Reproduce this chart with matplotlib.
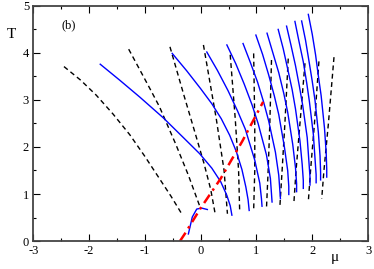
import matplotlib
matplotlib.use("Agg")
import matplotlib.pyplot as plt
from matplotlib.ticker import MultipleLocator

plt.rcParams['font.family'] = ['Liberation Serif', 'DejaVu Serif']
plt.rcParams['axes.unicode_minus'] = False

# blue solid curves, (mu, T)
blue_mu = [
    [-0.22, -0.15, -0.07, 0.02, 0.12],
    [-1.80, -1.45, -1.09, -0.67, -0.31, -0.02, 0.20, 0.36, 0.47, 0.53, 0.56],
    [-0.51, -0.25, 0.00, 0.20, 0.37, 0.52, 0.64, 0.74, 0.81, 0.85, 0.87],
    [0.11, 0.30, 0.49, 0.66, 0.80, 0.97, 1.06, 1.09, 1.10],
    [0.47, 0.63, 0.78, 0.92, 1.03, 1.18, 1.25, 1.27, 1.28],
    [0.76, 0.89, 1.02, 1.13, 1.22, 1.34, 1.40, 1.42, 1.43],
    [0.99, 1.11, 1.22, 1.32, 1.40, 1.50, 1.56, 1.58, 1.58],
    [1.19, 1.29, 1.40, 1.49, 1.56, 1.65, 1.70, 1.72, 1.72],
    [1.39, 1.48, 1.56, 1.64, 1.70, 1.78, 1.82, 1.84, 1.84],
    [1.54, 1.62, 1.70, 1.77, 1.83, 1.91, 1.94, 1.96, 1.96],
    [1.69, 1.76, 1.84, 1.90, 1.95, 2.02, 2.05, 2.07, 2.07],
    [1.81, 1.88, 1.94, 2.00, 2.05, 2.11, 2.14, 2.15, 2.15],
    [1.93, 2.00, 2.06, 2.11, 2.16, 2.22, 2.25, 2.26, 2.26],
]
blue_T = [
    [0.15, 0.51, 0.68, 0.70, 0.67],
    [3.76, 3.42, 3.06, 2.62, 2.20, 1.86, 1.55, 1.26, 0.97, 0.75, 0.55],
    [3.99, 3.62, 3.24, 2.92, 2.60, 2.25, 1.90, 1.52, 1.15, 0.88, 0.65],
    [4.02, 3.63, 3.20, 2.77, 2.38, 1.72, 1.23, 0.90, 0.74],
    [4.17, 3.77, 3.34, 2.90, 2.50, 1.83, 1.33, 1.00, 0.83],
    [4.20, 3.80, 3.38, 2.95, 2.55, 1.89, 1.40, 1.07, 0.90],
    [4.38, 3.97, 3.53, 3.09, 2.69, 2.01, 1.50, 1.16, 0.99],
    [4.42, 4.02, 3.58, 3.14, 2.74, 2.06, 1.56, 1.22, 1.05],
    [4.50, 4.09, 3.66, 3.22, 2.81, 2.13, 1.63, 1.29, 1.12],
    [4.57, 4.16, 3.73, 3.29, 2.88, 2.20, 1.70, 1.36, 1.19],
    [4.67, 4.26, 3.81, 3.37, 2.96, 2.27, 1.75, 1.41, 1.24],
    [4.68, 4.27, 3.84, 3.40, 2.99, 2.31, 1.81, 1.47, 1.30],
    [4.82, 4.40, 3.96, 3.51, 3.09, 2.40, 1.88, 1.53, 1.36],
]

# black dashed curves
dash_mu = [
    [-2.45, -2.15, -1.87, -1.57, -1.27, -1.00, -0.74, -0.53, -0.33],
    [-1.29, -1.09, -0.90, -0.74, -0.45, -0.22, -0.01],
    [-0.55, -0.30, -0.10, 0.06, 0.18, 0.26],
    [0.05, 0.28, 0.42, 0.48],
    [0.53, 0.62, 0.68, 0.70],
    [0.95, 0.97, 0.97, 0.95],
    [1.27, 1.24, 1.21, 1.18],
    [1.57, 1.51, 1.46, 1.42],
    [1.87, 1.78, 1.71, 1.67],
    [2.12, 2.04, 1.97, 1.93],
    [2.39, 2.29, 2.21, 2.17],
]
dash_T = [
    [3.71, 3.42, 3.10, 2.70, 2.26, 1.80, 1.33, 0.95, 0.56],
    [4.08, 3.64, 3.22, 2.86, 2.07, 1.40, 0.72],
    [4.13, 3.10, 2.30, 1.65, 1.10, 0.58],
    [4.17, 2.60, 1.50, 0.58],
    [3.96, 2.60, 1.50, 0.61],
    [3.99, 2.50, 1.50, 0.65],
    [3.85, 2.50, 1.50, 0.70],
    [3.88, 2.50, 1.50, 0.73],
    [3.78, 2.50, 1.50, 0.79],
    [3.82, 2.50, 1.50, 0.84],
    [3.91, 2.50, 1.50, 0.90],
]

# red dash-dot line
red_mu = [-0.37, -0.28, 0.00, 0.36, 0.75, 1.12]
red_T = [0.00, 0.16, 0.70, 1.33, 2.13, 2.96]

fig = plt.figure(figsize=(3.74, 2.69), dpi=100)
ax = fig.add_axes([0.089, 0.104, 0.895, 0.874])

for m, t in zip(dash_mu, dash_T):
    ax.plot(m, t, color='black', lw=1.0, dashes=(3.5, 2.5))
for m, t in zip(blue_mu, blue_T):
    ax.plot(m, t, color='#0000ff', lw=1.0, solid_joinstyle='round')
ax.plot(red_mu, red_T, color='#ff0000', lw=1.8, dashes=(4, 2, 1, 2))

ax.set_xlim(-3, 3)
ax.set_ylim(0, 5)
ax.xaxis.set_major_locator(MultipleLocator(1))
ax.xaxis.set_minor_locator(MultipleLocator(0.5))
ax.yaxis.set_major_locator(MultipleLocator(1))
ax.yaxis.set_minor_locator(MultipleLocator(0.5))
ax.tick_params(which='both', direction='in', top=True, right=True,
               labelsize=9, width=0.8, pad=3)
ax.tick_params(which='major', length=5)
ax.tick_params(which='minor', length=2.5)
for s in ax.spines.values():
    s.set_linewidth(1.3)
    s.set_color('#444444')

ax.text(-2.5, 4.53, '(b)', fontsize=9)
fig.text(0.018, 0.86, 'T', fontsize=11)
fig.text(0.885, 0.03, 'μ', fontsize=11)

fig.savefig('out.png', dpi=100)
